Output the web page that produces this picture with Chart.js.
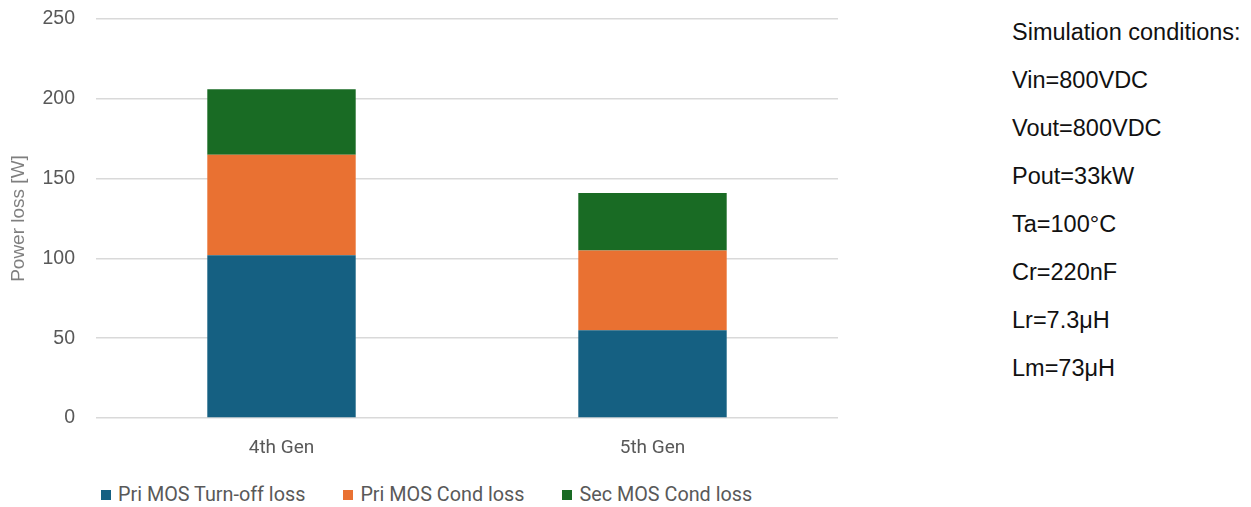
<!DOCTYPE html>
<html>
<head>
<meta charset="utf-8">
<title>Power loss comparison</title>
<script src="https://cdn.jsdelivr.net/npm/chart.js@4.4.1/dist/chart.umd.min.js"></script>
<style>
  html, body { margin: 0; padding: 0; background: #fff; }
  body { width: 1251px; height: 507px; position: relative; overflow: hidden; }
  #chartBox { position: absolute; left: 0; top: 0; width: 850px; height: 471px; }
  #legend { position: absolute; left: 101px; top: 483px; display: flex; font-family: Roboto, sans-serif; font-size: 19.8px; color: #595959; }
  #legend .item { display: flex; align-items: center; margin-right: 38px; }
  #legend .swatch { width: 10px; height: 10px; margin-right: 7px; }
  #conditions { position: absolute; left: 1012px; top: 17px; font-family: "Liberation Sans", Arial, sans-serif; font-size: 23.5px; color: #111; }
  #conditions div { height: 48px; line-height: 30px; }
</style>
</head>
<body>
<div id="chartBox"><canvas id="lossChart"></canvas></div>
<div id="legend"></div>
<div id="conditions"></div>

<script>
// Chart data
const categories = ['4th Gen', '5th Gen'];
const seriesNames = ['Pri MOS Turn-off loss', 'Pri MOS Cond loss', 'Sec MOS Cond loss'];
const priTurnOff = [102, 55];
const priCond = [63, 50];
const secCond = [41, 36];
const yTicks = [0, 50, 100, 150, 200, 250];
const conditions = [
  'Simulation conditions:',
  'Vin=800VDC',
  'Vout=800VDC',
  'Pout=33kW',
  'Ta=100°C',
  'Cr=220nF',
  'Lr=7.3μH',
  'Lm=73μH'
];

// Office theme colors
const COLORS = ['#156082', '#E97132', '#196B24'];
const GRID_COLOR = '#d9d9d9';
const TICK_COLOR = '#595959';

const seriesValues = [priTurnOff, priCond, secCond];

const lossChart = new Chart(document.getElementById('lossChart'), {
  type: 'bar',
  data: {
    labels: categories,
    datasets: seriesNames.map((name, i) => ({
      label: name,
      data: seriesValues[i],
      backgroundColor: COLORS[i],
      borderWidth: 0,
      barPercentage: 0.4,
      categoryPercentage: 1.0
    }))
  },
  options: {
    responsive: true,
    maintainAspectRatio: false,
    animation: false,
    layout: { padding: { top: 19, right: 12, bottom: 0, left: 0 } },
    plugins: {
      legend: { display: false },
      tooltip: { enabled: false }
    },
    scales: {
      x: {
        stacked: true,
        grid: { display: false, drawTicks: false },
        border: { display: false },
        ticks: {
          color: TICK_COLOR,
          padding: 19,
          font: { family: 'Roboto', size: 19 }
        },
        afterFit: (scale) => { scale.height = 53; }
      },
      y: {
        stacked: true,
        min: yTicks[0],
        max: yTicks[yTicks.length - 1],
        afterBuildTicks: (scale) => { scale.ticks = yTicks.map(v => ({ value: v })); },
        grid: { color: GRID_COLOR, lineWidth: 1.5, drawTicks: false },
        border: { display: false },
        ticks: {
          color: TICK_COLOR,
          padding: 21,
          font: { family: 'Liberation Sans', size: 19.5 }
        },
        title: {
          display: true,
          text: 'Power loss [W]',
          color: '#7f7f7f',
          padding: { top: 7, bottom: 0 },
          font: { family: 'Liberation Sans', size: 19 }
        },
        afterFit: (scale) => {
          scale.width = 96;
          scale.paddingTop = 0;
          scale.paddingBottom = 0;
        }
      }
    }
  }
});

// HTML legend
const legendEl = document.getElementById('legend');
seriesNames.forEach((name, i) => {
  const item = document.createElement('div');
  item.className = 'item';
  item.innerHTML = `<span class="swatch" style="background:${COLORS[i]}"></span><span>${name}</span>`;
  legendEl.appendChild(item);
});

// Simulation conditions text
const condEl = document.getElementById('conditions');
conditions.forEach((line) => {
  const d = document.createElement('div');
  d.textContent = line;
  condEl.appendChild(d);
});
</script>
</body>
</html>
